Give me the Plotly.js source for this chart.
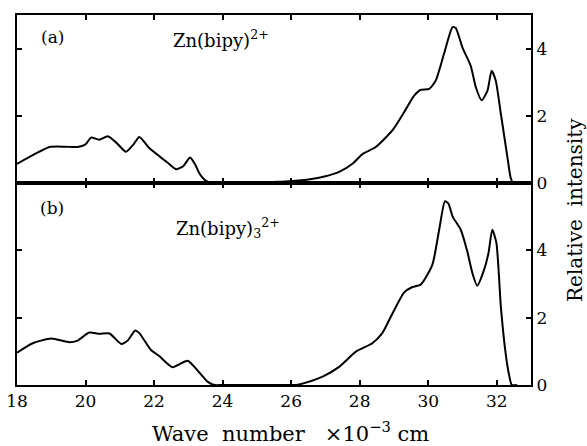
<!DOCTYPE html>
<html>
<head>
<meta charset="utf-8">
<script src="https://cdn.plot.ly/plotly-3.0.1.min.js"></script>
<style>html,body{margin:0;padding:0;background:#fff;}#chart{width:587px;height:446px;}</style>
</head>
<body>
<div id="chart"></div>
<script>
// Panel (a): Zn(bipy)2+
var waveA = [18.0, 18.5, 18.95, 19.4, 19.76, 20.0, 20.16, 20.4, 20.65, 20.9, 21.18, 21.4, 21.57, 21.85, 22.15, 22.4, 22.64, 22.85, 23.05, 23.2, 23.32, 23.45, 23.56, 23.7, 24.0, 24.5, 25.0, 25.5, 25.94, 26.6, 27.0, 27.4, 27.8, 28.08, 28.47, 28.96, 29.3, 29.59, 29.78, 30.03, 30.22, 30.46, 30.71, 30.8, 31.0, 31.24, 31.39, 31.56, 31.73, 31.85, 31.97, 32.12, 32.31, 32.41, 32.48, 32.6];
var intensityA = [0.57, 0.85, 1.07, 1.08, 1.07, 1.15, 1.35, 1.29, 1.39, 1.2, 0.93, 1.15, 1.37, 1.05, 0.8, 0.6, 0.41, 0.5, 0.76, 0.55, 0.29, 0.12, 0.04, 0.0, 0.0, 0.0, 0.01, 0.03, 0.05, 0.12, 0.2, 0.33, 0.58, 0.86, 1.07, 1.57, 2.11, 2.6, 2.77, 2.8, 3.05, 3.84, 4.64, 4.62, 4.03, 3.49, 2.85, 2.46, 2.75, 3.34, 3.05, 2.06, 0.78, 0.14, 0.0, 0.0];

// Panel (b): Zn(bipy)3 2+
var waveB = [18.0, 18.46, 19.0, 19.53, 19.77, 20.11, 20.4, 20.7, 21.04, 21.23, 21.45, 21.57, 21.91, 22.15, 22.54, 22.98, 23.32, 23.56, 23.76, 24.0, 25.0, 25.94, 26.2, 26.43, 26.92, 27.4, 27.89, 28.37, 28.66, 28.96, 29.3, 29.54, 29.78, 30.12, 30.32, 30.49, 30.59, 30.71, 30.95, 31.14, 31.29, 31.43, 31.63, 31.76, 31.87, 31.99, 32.12, 32.26, 32.36, 32.44, 32.6];
var intensityB = [0.96, 1.24, 1.38, 1.27, 1.32, 1.56, 1.52, 1.53, 1.22, 1.32, 1.62, 1.54, 1.04, 0.86, 0.53, 0.72, 0.37, 0.1, 0.0, 0.0, 0.0, 0.0, 0.01, 0.07, 0.25, 0.54, 0.99, 1.24, 1.54, 2.13, 2.75, 2.91, 2.98, 3.57, 4.61, 5.46, 5.39, 5.01, 4.61, 3.97, 3.32, 2.95, 3.42, 3.92, 4.61, 4.22, 2.33, 0.94, 0.3, 0.0, 0.0];

var xTickVals = [18, 20, 22, 24, 26, 28, 30, 32];
var xTickText = ['18', '20', '22', '24', '26', '28', '30', '32'];
var yTickVals = [0, 2, 4];
var yTickText = ['0', '2', '4'];
var labelA = '(a)';
var labelB = '(b)';
var speciesA = 'Zn(bipy)<sup>2+</sup>';
var speciesB = 'Zn(bipy)<sub>3</sub><sup>2+</sup>';
var xTitle = 'Wave\u00a0\u00a0number\u00a0\u00a0\u00a0×10<sup>−3</sup>\u00a0cm';
var yTitle = 'Relative\u00a0\u00a0intensity';

var serif = 'DejaVu Serif';
var traces = [
  {x: waveA, y: intensityA, xaxis: 'x2', yaxis: 'y2', mode: 'lines',
   line: {color: '#000', width: 2, shape: 'spline', smoothing: 0.6}, hoverinfo: 'skip'},
  {x: waveB, y: intensityB, xaxis: 'x', yaxis: 'y', mode: 'lines',
   line: {color: '#000', width: 2, shape: 'spline', smoothing: 0.6}, hoverinfo: 'skip'}
];

var xCommon = {
  range: [18, 33], showgrid: false, zeroline: false,
  showline: true, linecolor: '#000', linewidth: 2, mirror: 'ticks',
  ticks: 'inside', ticklen: 5, tickwidth: 2, tickcolor: '#000',
  tickvals: xTickVals, ticktext: xTickText,
  tickfont: {family: serif, size: 17, color: '#000'}
};
var yCommon = {
  side: 'right', showgrid: false, zeroline: false,
  showline: true, linecolor: '#000', linewidth: 2, mirror: 'ticks',
  ticks: 'inside', ticklen: 5, tickwidth: 2, tickcolor: '#000',
  tickvals: yTickVals, ticktext: yTickText,
  tickfont: {family: serif, size: 17, color: '#000'}
};

var layout = {
  width: 587, height: 446,
  margin: {l: 17, r: 56, t: 15, b: 61},
  paper_bgcolor: '#fff', plot_bgcolor: '#fff',
  font: {family: serif, color: '#000'},
  showlegend: false,
  xaxis: Object.assign({}, xCommon, {anchor: 'y', domain: [0, 1]}),
  xaxis2: Object.assign({}, xCommon, {anchor: 'y2', domain: [0, 1], showticklabels: false}),
  yaxis: Object.assign({}, yCommon, {anchor: 'x', domain: [0, 0.546], range: [0, 6]}),
  yaxis2: Object.assign({}, yCommon, {anchor: 'x2', domain: [0.546, 1], range: [0, 5]}),
  annotations: [
    {text: labelA, xref: 'paper', yref: 'paper', x: 0.070, y: 0.941, xanchor: 'center', yanchor: 'middle', showarrow: false, font: {family: serif, size: 17, color: '#000'}},
    {text: speciesA, xref: 'paper', yref: 'paper', x: 0.300, y: 0.935, xanchor: 'left', yanchor: 'middle', showarrow: false, font: {family: serif, size: 18, color: '#000'}},
    {text: labelB, xref: 'paper', yref: 'paper', x: 0.068, y: 0.4776, xanchor: 'center', yanchor: 'middle', showarrow: false, font: {family: serif, size: 17, color: '#000'}},
    {text: speciesB, xref: 'paper', yref: 'paper', x: 0.305, y: 0.424, xanchor: 'left', yanchor: 'middle', showarrow: false, font: {family: serif, size: 18, color: '#000'}},
    {text: xTitle, xref: 'paper', yref: 'paper', x: 0.533, y: -0.127, xanchor: 'center', yanchor: 'middle', showarrow: false, font: {family: serif, size: 21, color: '#000'}},
    {text: yTitle, xref: 'paper', yref: 'paper', x: 1.0856, y: 0.473, xanchor: 'center', yanchor: 'middle', textangle: -90, showarrow: false, font: {family: serif, size: 20, color: '#000'}}
  ]
};

Plotly.newPlot('chart', traces, layout, {displayModeBar: false, staticPlot: true});
</script>
</body>
</html>
